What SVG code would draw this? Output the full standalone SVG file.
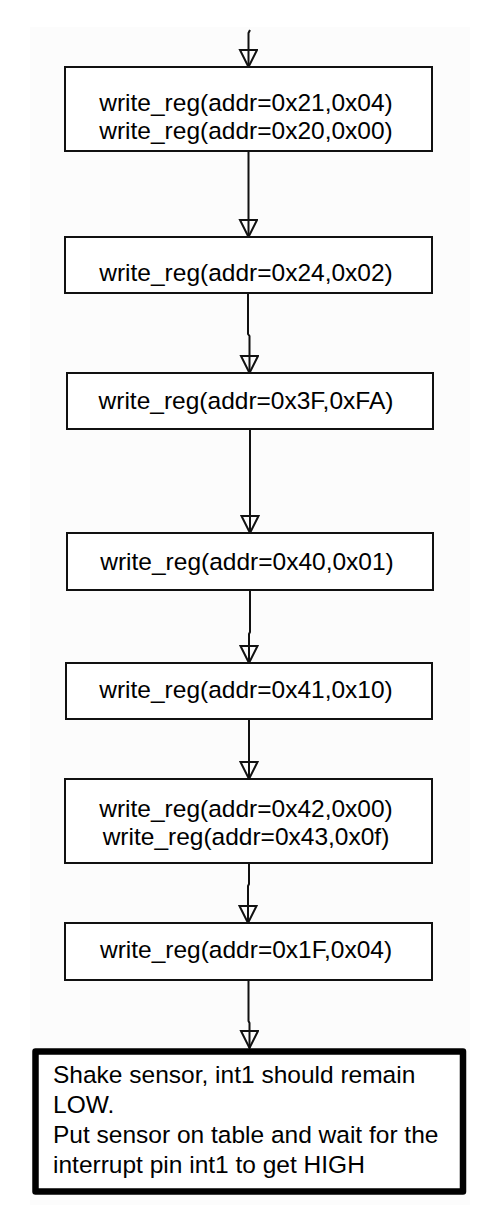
<svg xmlns="http://www.w3.org/2000/svg" width="498" height="1226" viewBox="0 0 498 1226">
<defs>
<style>
.box{fill:#ffffff;stroke:#111111;stroke-width:2}
.thick{fill:#ffffff;stroke:#000000;stroke-width:6.5;stroke-linejoin:round}
.lbl{font-family:"Liberation Sans",Arial,sans-serif;font-size:24.5px;fill:#000000;text-anchor:middle}
.note{font-family:"Liberation Sans",Arial,sans-serif;font-size:24.5px;fill:#000000}
.conn{fill:none;stroke:#111111;stroke-width:2;marker-end:url(#arr)}
</style>
<marker id="arr" markerUnits="userSpaceOnUse" markerWidth="20" markerHeight="20" refX="17" refY="8.5" orient="auto" viewBox="-1 -1 20 20">
<path d="M0,0 L17,8.5 L0,17 Z" fill="none" stroke="#111111" stroke-width="2" stroke-linejoin="miter"/>
</marker>
</defs>
<rect x="0" y="0" width="498" height="1226" fill="#ffffff"/>
<rect x="30" y="27" width="440" height="1178" fill="#fcfcfc"/>
<g id="connectors">
<path class="conn" d="M250,30 L248.5,33 L248.5,67"/>
<path class="conn" d="M248.5,151 L248.5,237"/>
<path class="conn" d="M248,293 L248,334 L249.5,336 L249.5,373"/>
<path class="conn" d="M250,429 L250,533"/>
<path class="conn" d="M250,590 L250,632 L249,634 L249,663"/>
<path class="conn" d="M249,719 L249,779"/>
<path class="conn" d="M249,863 L249,884 L248,886 L248,923"/>
<path class="conn" d="M248.5,980 L248.5,1021 L249.5,1023 L249.5,1048"/>
</g>
<g id="n1">
<rect class="box" x="65" y="67" width="367" height="84"/>
<text class="lbl" x="246" y="111">write_reg(addr=0x21,0x04)</text>
<text class="lbl" x="246" y="139">write_reg(addr=0x20,0x00)</text>
</g>
<g id="n2">
<rect class="box" x="65" y="237" width="367" height="56"/>
<text class="lbl" x="246" y="281">write_reg(addr=0x24,0x02)</text>
</g>
<g id="n3">
<rect class="box" x="67" y="373" width="366" height="56"/>
<text class="lbl" x="246" y="409">write_reg(addr=0x3F,0xFA)</text>
</g>
<g id="n4">
<rect class="box" x="67" y="533" width="366" height="57"/>
<text class="lbl" x="247" y="570">write_reg(addr=0x40,0x01)</text>
</g>
<g id="n5">
<rect class="box" x="66" y="663" width="366" height="56"/>
<text class="lbl" x="246" y="698">write_reg(addr=0x41,0x10)</text>
</g>
<g id="n6">
<rect class="box" x="65" y="779" width="367" height="84"/>
<text class="lbl" x="246" y="817">write_reg(addr=0x42,0x00)</text>
<text class="lbl" x="246" y="845">write_reg(addr=0x43,0x0f)</text>
</g>
<g id="n7">
<rect class="box" x="65" y="923" width="367" height="57"/>
<text class="lbl" x="246" y="958">write_reg(addr=0x1F,0x04)</text>
</g>
<g id="n8">
<rect class="thick" x="35.5" y="1051.5" width="427.5" height="140"/>
<text class="note" x="53" y="1083">Shake sensor, int1 should remain</text>
<text class="note" x="53" y="1113">LOW.</text>
<text class="note" x="53" y="1143">Put sensor on table and wait for the</text>
<text class="note" x="53" y="1173">interrupt pin int1 to get HIGH</text>
</g>
</svg>
